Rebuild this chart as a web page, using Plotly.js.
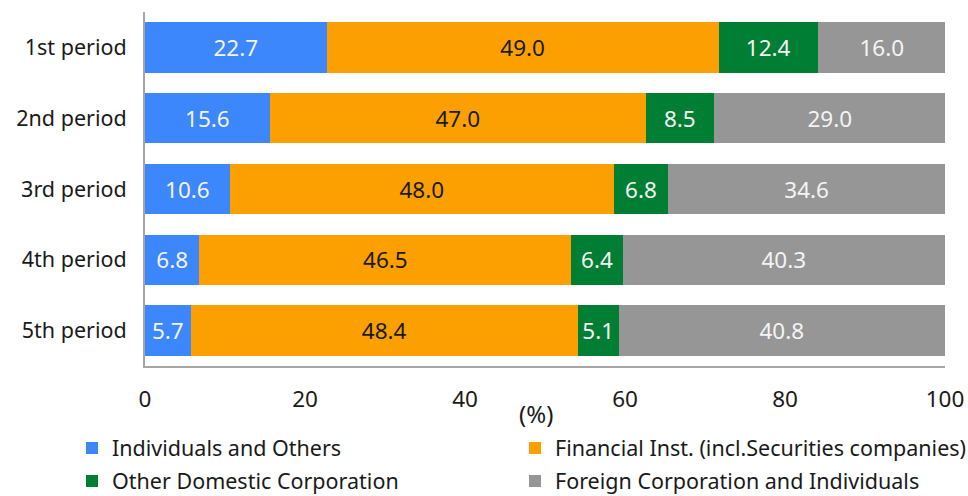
<!DOCTYPE html>
<html>
<head>
<meta charset="utf-8">
<script src="https://cdn.plot.ly/plotly-3.0.1.min.js"></script>
<style>html,body{margin:0;padding:0;background:#fff}#chart{width:968px;height:496px}</style>
</head>
<body>
<div id="chart"></div>
<script>
const periods = ["1st period", "2nd period", "3rd period", "4th period", "5th period"];
const individuals = [22.7, 15.6, 10.6, 6.8, 5.7];
const financial = [49.0, 47.0, 48.0, 46.5, 48.4];
const otherDomestic = [12.4, 8.5, 6.8, 6.4, 5.1];
const foreign = [16.0, 29.0, 34.6, 40.3, 40.8];
const seriesNames = ["Individuals and Others", "Financial Inst. (incl.Securities companies)", "Other Domestic Corporation", "Foreign Corporation and Individuals"];
const xTicks = [0, 20, 40, 60, 80, 100];

const FONT = "Noto Sans, Segoe UI, sans-serif";
const colors = ["#3b87fb", "#fba000", "#007f34", "#969696"];
const textColors = ["#f4f4f4", "#1a1a1a", "#f4f4f4", "#f4f4f4"];
const legendIds = ["legend", "legend2", "legend3", "legend4"];
const data = [individuals, financial, otherDomestic, foreign].map((vals, i) => ({
  type: "bar",
  orientation: "h",
  name: seriesNames[i],
  y: periods,
  x: vals,
  marker: {color: colors[i], line: {width: 0}},
  texttemplate: "%{x:.1f}",
  textposition: "inside",
  insidetextanchor: "middle",
  constraintext: "none",
  textfont: {family: FONT, size: 22.5, color: textColors[i]},
  legend: legendIds[i],
  hoverinfo: "x+name"
}));

// plot area: x 145..945, y 12..366 (pixels)
const px = v => (v - 145) / 800;
const py = v => (366 - v) / 354;
const legendPos = [[72, 448], [515, 448], [72, 481], [515, 481]];

const layout = {
  width: 968, height: 496,
  margin: {l: 145, r: 23, t: 12, b: 130, autoexpand: false},
  paper_bgcolor: "#fff", plot_bgcolor: "#fff",
  barmode: "stack",
  bargap: 0.29,
  font: {family: FONT, size: 21.5, color: "#1a1a1a"},
  xaxis: {
    range: [0, 100], tickvals: xTicks, ticktext: xTicks.map(String),
    showgrid: false, zeroline: false,
    showline: true, linecolor: "#a6a6a6", linewidth: 2,
    ticks: "", ticklabelstandoff: 12,
    tickfont: {family: FONT, size: 22.5, color: "#1a1a1a"},
    fixedrange: true
  },
  yaxis: {
    autorange: "reversed",
    showgrid: false, zeroline: false,
    showline: true, linecolor: "#a6a6a6", linewidth: 2,
    ticks: "", ticklabelstandoff: 12,
    tickfont: {family: FONT, size: 21.5, color: "#1a1a1a"},
    fixedrange: true
  },
  showlegend: true,
  annotations: [{
    text: "(%)", xref: "paper", yref: "paper",
    x: px(536), y: py(413),
    xanchor: "center", yanchor: "middle", showarrow: false,
    font: {family: FONT, size: 24, color: "#1a1a1a"}
  }]
};
legendIds.forEach((id, i) => {
  layout[id] = {
    orientation: "h",
    xref: "paper", yref: "paper",
    xanchor: "left", yanchor: "middle",
    x: px(legendPos[i][0]), y: py(legendPos[i][1]),
    itemwidth: 30,
    font: {family: FONT, size: 21.5, color: "#1a1a1a"},
    bgcolor: "rgba(0,0,0,0)",
    borderwidth: 0
  };
});

Plotly.newPlot("chart", data, layout, {displayModeBar: false, staticPlot: true});
</script>
</body>
</html>
